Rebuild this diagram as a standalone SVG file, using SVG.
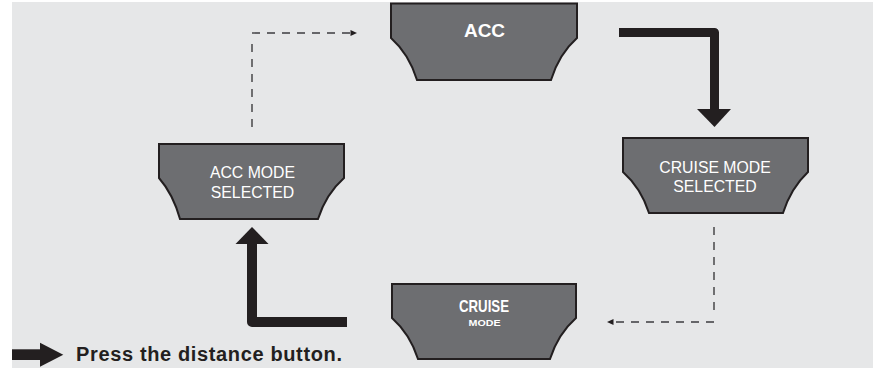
<svg xmlns="http://www.w3.org/2000/svg" width="873" height="368" viewBox="0 0 873 368">
<style>
.node{fill:#6d6e71;stroke:#231f20;stroke-width:2;stroke-linejoin:miter}
.lbl{fill:#ffffff;font-family:"Liberation Sans",Arial,sans-serif;text-anchor:middle}
.thick{fill:none;stroke:#231f20;stroke-linejoin:round}
.dash{fill:none;stroke:#3d3d3f;stroke-width:1.4;stroke-dasharray:8 7}
.head{fill:#231f20}
</style>
<rect x="12" y="2" width="861" height="366" fill="#e6e7e8"/>

<g id="connectors">
  <path class="thick" stroke-width="9" d="M619,32.5 H714.5 V110"/>
  <polygon class="head" points="697,109 731,109 714.5,127"/>
  <path class="thick" stroke-width="10" d="M347,322 H252 V243"/>
  <polygon class="head" points="235.5,244 268.5,244 252,227"/>
  <path class="dash" d="M252,127 V42"/>
  <path class="dash" d="M252,33 H351"/>
  <polygon class="head" points="350.5,30 357,33 350.5,36"/>
  <path class="dash" d="M714,227 V312"/>
  <path class="dash" d="M714,322 H613"/>
  <polygon class="head" points="613.5,319 607,322 613.5,325"/>
</g>

<g id="node-acc">
  <path class="node" d="M391,3.5 H577 V38 Q559,54 551,80 H417 Q409,54 391,38 Z"/>
  <text class="lbl" x="484.5" y="37" font-size="19" font-weight="bold">ACC</text>
</g>

<g id="node-acc-mode-selected">
  <path class="node" d="M159,144 H344 V178 Q326,194 318,219 H180 Q173,194 159,178 Z"/>
  <text class="lbl" x="252.5" y="178.3" font-size="15.8">ACC MODE</text>
  <text class="lbl" x="252.5" y="197.7" font-size="15.8">SELECTED</text>
</g>

<g id="node-cruise-mode-selected">
  <path class="node" d="M623,138 H808 V172 Q791,188 783,213 H649 Q641,188 623,172 Z"/>
  <text class="lbl" x="715" y="173.3" font-size="15.8">CRUISE MODE</text>
  <text class="lbl" x="715" y="192.3" font-size="15.8">SELECTED</text>
</g>

<g id="node-cruise-mode">
  <path class="node" d="M392,284 H576 V318 Q558,334 550,359 H418 Q410,334 392,318 Z"/>
  <text class="lbl" x="484" y="312.3" font-size="17" font-weight="bold" textLength="50" lengthAdjust="spacingAndGlyphs">CRUISE</text>
  <text class="lbl" x="484.5" y="325.5" font-size="9" font-weight="bold" textLength="32" lengthAdjust="spacingAndGlyphs">MODE</text>
</g>

<g id="legend">
  <rect x="12" y="349.3" width="29" height="10.7" fill="#231f20"/>
  <polygon class="head" points="40,342.7 63.3,354.7 40,366.7"/>
  <text x="76" y="361" font-family="'Liberation Sans',Arial,sans-serif" font-size="20" font-weight="bold" fill="#231f20" textLength="266" lengthAdjust="spacing">Press the distance button.</text>
</g>
</svg>
